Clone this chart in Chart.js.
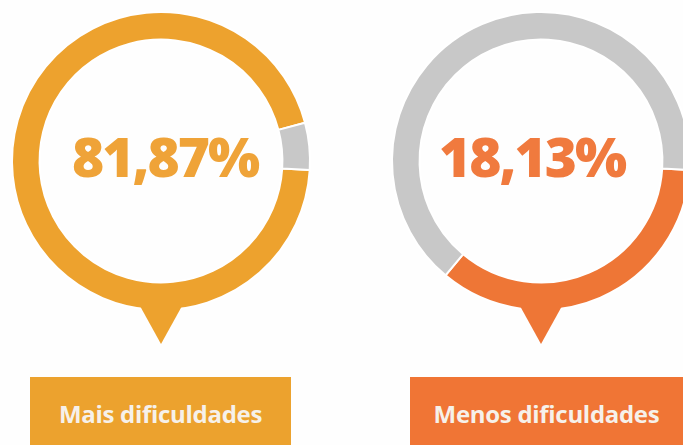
<!DOCTYPE html>
<html>
<head>
<meta charset="utf-8">
<script src="https://cdn.jsdelivr.net/npm/chart.js@4/dist/chart.umd.min.js"></script>
<style>
  html, body { margin: 0; padding: 0; background: #fefefe; overflow: hidden; }
  body { width: 683px; height: 445px; position: relative; font-family: "Open Sans", sans-serif; }
  .ring { position: absolute; top: 0; width: 322px; height: 360px; }
  .tag {
    position: absolute; top: 377px; height: 68px; box-sizing: border-box; padding-top: 5px;
    color: #f6f1ea; font-weight: 700; font-size: 24px; letter-spacing: -0.3px;
    display: flex; align-items: center; justify-content: center;
  }
</style>
</head>
<body>
<div class="ring" style="left:0px"><canvas id="chartMais"></canvas></div>
<div class="ring" style="left:380px"><canvas id="chartMenos"></canvas></div>
<div class="tag" id="tagMais" style="left:30px; width:261px; background:#eca22e"></div>
<div class="tag" id="tagMenos" style="left:410px; width:273px; background:#f07535"></div>

<script>
// dados
const categories = ['Mais dificuldades', 'Menos dificuldades'];
const percentLabels = ['81,87%', '18,13%'];
// fração do anel colorida (como desenhada no infográfico)
const ringMais = [94.9, 5.1];
const ringMenos = [35.1, 64.9];

const GRAY = '#c8c8c8';
const colorsMais = '#eda22e';
const colorsMenos = '#ee7636';

// texto central + "ponteiro" abaixo do anel
const centerPlugin = {
  id: 'centerBubble',
  afterDatasetsDraw(chart, args, opts) {
    const arc = chart.getDatasetMeta(0).data[0];
    const { x, y, outerRadius } = arc;
    const ctx = chart.ctx;
    ctx.save();
    // ponteiro
    ctx.fillStyle = opts.pointerColor;
    ctx.beginPath();
    ctx.moveTo(x - 21, y + outerRadius - 4);
    ctx.lineTo(x + 21, y + outerRadius - 4);
    ctx.lineTo(x, y + outerRadius + 34);
    ctx.closePath();
    ctx.fill();
    // percentual
    ctx.fillStyle = opts.textColor;
    ctx.font = '800 55px "Open Sans"';
    ctx.letterSpacing = '-2px';
    ctx.textAlign = 'center';
    ctx.textBaseline = 'alphabetic';
    ctx.fillText(opts.text, x + opts.dx, y + 16);
    ctx.restore();
  }
};

function makeRing(id, values, mainColor, text, textColor, dx) {
  new Chart(document.getElementById(id), {
    type: 'doughnut',
    data: {
      labels: ['destaque', 'restante'],
      datasets: [{
        data: values,
        backgroundColor: [mainColor, GRAY],
        borderColor: '#ffffff',
        borderWidth: 2
      }]
    },
    options: {
      responsive: true,
      maintainAspectRatio: false,
      animation: false,
      rotation: 93.5,
      cutout: '81.5%',
      layout: { padding: { top: 11, left: 11, right: 11, bottom: 49 } },
      plugins: {
        legend: { display: false },
        tooltip: { enabled: false },
        centerBubble: { text: text, textColor: textColor, pointerColor: mainColor, dx: dx }
      }
    },
    plugins: [centerPlugin]
  });
}

makeRing('chartMais', ringMais, colorsMais, percentLabels[0], '#efa338', 4);
makeRing('chartMenos', ringMenos, colorsMenos, percentLabels[1], '#f07a3e', -9);

document.getElementById('tagMais').textContent = categories[0];
document.getElementById('tagMenos').textContent = categories[1];
</script>
</body>
</html>
